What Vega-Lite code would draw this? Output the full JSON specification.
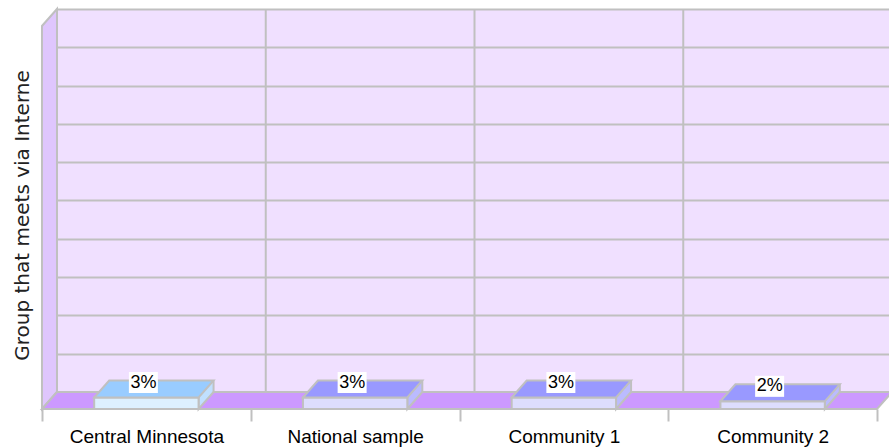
{
  "$schema": "https://vega.github.io/schema/vega-lite/v6.json",
  "width": 847,
  "height": 400,
  "autosize": "none",
  "padding": {"left": 42, "top": 9, "right": 0, "bottom": 39},
  "background": "white",
  "config": {
    "view": {"stroke": null, "fill": "#f0e0ff"},
    "font": "Liberation Sans"
  },
  "data": {
    "values": [
      {"group": "Central Minnesota", "value": 0.03},
      {"group": "National sample", "value": 0.03},
      {"group": "Community 1", "value": 0.03},
      {"group": "Community 2", "value": 0.02}
    ]
  },
  "encoding": {
    "x": {
      "field": "group",
      "type": "nominal",
      "sort": null,
      "scale": {"paddingInner": 0, "paddingOuter": 0.02874, "align": 0},
      "axis": {
        "title": null,
        "domain": false,
        "grid": false,
        "ticks": true,
        "tickBand": "extent",
        "tickSize": 12,
        "tickColor": "#c0c0c0",
        "tickWidth": 2,
        "labelAngle": 0,
        "labelFont": "Liberation Sans",
        "labelFontSize": 19,
        "labelColor": "#000000",
        "labelPadding": 6
      }
    },
    "y": {
      "field": "value",
      "type": "quantitative",
      "scale": {"domain": [0, 1.0444], "nice": false},
      "axis": {
        "title": "Group that meets via Interne",
        "titleFont": "DejaVu Sans",
        "titleFontSize": 20,
        "titleFontWeight": "normal",
        "titleColor": "#222222",
        "titlePadding": 10,
        "titleY": 206,
        "ticks": false,
        "labels": false,
        "domain": false,
        "grid": true,
        "gridColor": "#c0c0c0",
        "gridWidth": 2,
        "values": [0.0444, 0.1444, 0.2444, 0.3444, 0.4444, 0.5444, 0.6444, 0.7444, 0.8444, 0.9444, 1.0444]
      }
    }
  },
  "layer": [
    {
      "mark": {"type": "rule", "xOffset": 15, "color": "#c0c0c0", "strokeWidth": 2},
      "encoding": {
        "x": {"field": "group", "type": "nominal", "sort": null, "bandPosition": 0},
        "y": {"datum": 0.0444, "type": "quantitative"},
        "y2": {"datum": 1.0444}
      }
    },
    {
      "transform": [{"filter": "datum.group === 'Central Minnesota'"}],
      "mark": {"type": "point", "filled": true, "opacity": 1, "size": 4, "fill": "white", "strokeWidth": 0,
        "shape": "M-105.5,-383 L-105.5,-403 L-89.4,-403 L-89.4,-400 Z"},
      "encoding": {"y": {"datum": 0, "type": "quantitative"}}
    },
    {
      "transform": [{"filter": "datum.group === 'Central Minnesota'"}],
      "mark": {"type": "point", "filled": true, "opacity": 1, "size": 4, "fill": "white", "strokeWidth": 0,
        "shape": "M730.6,0 L745.6,-17 L770,-17 L770,0 Z"},
      "encoding": {"y": {"datum": 0, "type": "quantitative"}}
    },
    {
      "transform": [{"filter": "datum.group === 'Central Minnesota'"}],
      "mark": {"type": "point", "filled": true, "opacity": 1, "size": 4, "fill": "#dfc6fd", "stroke": "#c0c0c0", "strokeWidth": 2,
        "shape": "M-104.4,0 L-89.4,-17 L-89.4,-400 L-104.4,-383 Z"},
      "encoding": {"y": {"datum": 0, "type": "quantitative"}}
    },
    {
      "transform": [{"filter": "datum.group === 'Central Minnesota'"}],
      "mark": {"type": "point", "filled": true, "opacity": 1, "size": 4, "fill": "#cc99ff", "stroke": "#c0c0c0", "strokeWidth": 2,
        "shape": "M-104.4,0 L730.6,0 L745.6,-17 L-89.4,-17 Z"},
      "encoding": {"y": {"datum": 0, "type": "quantitative"}}
    },
    {
      "mark": {"type": "bar", "width": {"band": 0.5}, "xOffset": 15, "yOffset": -17, "y2Offset": -17, "strokeWidth": 0},
      "encoding": {
        "fill": {"condition": {"test": "datum.group === 'Central Minnesota'", "value": "#c0e0ff"}, "value": "#bbbbff"}
      }
    },
    {
      "mark": {"type": "point", "filled": true, "opacity": 1, "size": 4, "stroke": "#c0c0c0", "strokeWidth": 2,
        "shape": "M67.2,-17 L52.2,0 L52.2,-17"},
      "encoding": {
        "y": {"datum": 0, "type": "quantitative"},
        "fill": {"condition": {"test": "datum.group === 'Central Minnesota'", "value": "#c0e0ff"}, "value": "#bbbbff"}
      }
    },
    {
      "mark": {"type": "rule", "xOffset": 67.2, "yOffset": -17, "y2Offset": -17, "color": "#c0c0c0", "strokeWidth": 2},
      "encoding": {
        "y2": {"datum": 0}
      }
    },
    {
      "mark": {"type": "bar", "width": {"band": 0.5}, "stroke": "#c0c0c0", "strokeWidth": 2},
      "encoding": {
        "fill": {"condition": {"test": "datum.group === 'Central Minnesota'", "value": "#ddf0ff"}, "value": "#ddddfd"}
      }
    },
    {
      "mark": {"type": "point", "filled": true, "opacity": 1, "size": 4, "stroke": "#c0c0c0", "strokeWidth": 2,
        "shape": "M-52.2,0 L52.2,0 L67.2,-17 L-37.2,-17 Z"},
      "encoding": {
        "fill": {"condition": {"test": "datum.group === 'Central Minnesota'", "value": "#99ccff"}, "value": "#9999ff"}
      }
    },
    {
      "mark": {"type": "point", "filled": true, "opacity": 1, "size": 4, "fill": "white", "strokeWidth": 0,
        "shape": "M-17.5,-25.5 L11.5,-25.5 L11.5,-4.5 L-17.5,-4.5 Z"}
    },
    {
      "mark": {"type": "text", "xOffset": -3, "yOffset": -15, "align": "center", "baseline": "middle",
        "font": "Liberation Sans", "fontSize": 18, "color": "#000000"},
      "encoding": {
        "text": {"field": "value", "type": "quantitative", "format": ".0%"}
      }
    }
  ]
}
